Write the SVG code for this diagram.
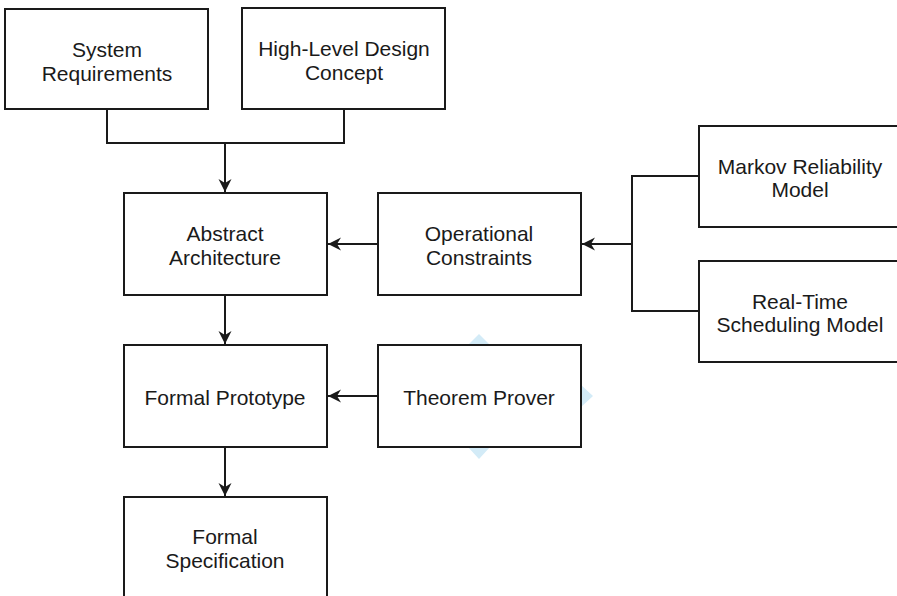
<svg xmlns="http://www.w3.org/2000/svg" width="897" height="596" viewBox="0 0 897 596">
  <defs>
    <style>
      .box { fill: #ffffff; stroke: #1a1a1a; stroke-width: 2; }
      .lbl { font-family: "Liberation Sans", Arial, sans-serif; font-size: 21px; fill: #1a1a1a; text-anchor: middle; }
      .edge { fill: none; stroke: #1a1a1a; stroke-width: 2; }
      .hint { fill: #d3ebf7; }
    </style>
    <marker id="arrow" markerWidth="16" markerHeight="16" refX="13" refY="8" orient="auto" markerUnits="userSpaceOnUse">
      <path d="M0,1.5 L13,8 L0,14.5 L4,8 Z" fill="#1a1a1a"/>
    </marker>
  </defs>

  <rect width="897" height="596" fill="#ffffff"/>

  <!-- hover hints around the theorem prover box -->
  <g id="hover-hints">
    <polygon class="hint" points="479,334 491,346 467,346"/>
    <polygon class="hint" points="593,396 580,384 580,408"/>
    <polygon class="hint" points="479,459 491,446 467,446"/>
  </g>

  <g id="connectors">
    <path class="edge" d="M107,109 V143 H344 V109"/>
    <path class="edge" d="M225,143 V192" marker-end="url(#arrow)"/>
    <path class="edge" d="M378,244 H328" marker-end="url(#arrow)"/>
    <path class="edge" d="M699,176 H632 V311 H699"/>
    <path class="edge" d="M632,244 H582" marker-end="url(#arrow)"/>
    <path class="edge" d="M225,295 V344" marker-end="url(#arrow)"/>
    <path class="edge" d="M378,396 H328" marker-end="url(#arrow)"/>
    <path class="edge" d="M225,447 V496" marker-end="url(#arrow)"/>
  </g>

  <g id="system-requirements">
    <rect class="box" x="5" y="9" width="203" height="100"/>
    <text class="lbl" x="107" y="57">System</text>
    <text class="lbl" x="107" y="81">Requirements</text>
  </g>

  <g id="high-level-design">
    <rect class="box" x="242" y="8" width="203" height="101"/>
    <text class="lbl" x="344" y="56">High-Level Design</text>
    <text class="lbl" x="344" y="80">Concept</text>
  </g>

  <g id="abstract-architecture">
    <rect class="box" x="124" y="193" width="203" height="102"/>
    <text class="lbl" x="225" y="241">Abstract</text>
    <text class="lbl" x="225" y="265">Architecture</text>
  </g>

  <g id="operational-constraints">
    <rect class="box" x="378" y="193" width="203" height="102"/>
    <text class="lbl" x="479" y="241">Operational</text>
    <text class="lbl" x="479" y="265">Constraints</text>
  </g>

  <g id="markov-reliability">
    <rect class="box" x="699" y="126" width="203" height="101"/>
    <text class="lbl" x="800" y="174">Markov Reliability</text>
    <text class="lbl" x="800" y="197">Model</text>
  </g>

  <g id="real-time-scheduling">
    <rect class="box" x="699" y="261" width="203" height="101"/>
    <text class="lbl" x="800" y="309">Real-Time</text>
    <text class="lbl" x="800" y="332">Scheduling Model</text>
  </g>

  <g id="formal-prototype">
    <rect class="box" x="124" y="345" width="203" height="102"/>
    <text class="lbl" x="225" y="405">Formal Prototype</text>
  </g>

  <g id="theorem-prover">
    <rect class="box" x="378" y="345" width="203" height="102"/>
    <text class="lbl" x="479" y="405">Theorem Prover</text>
  </g>

  <g id="formal-specification">
    <rect class="box" x="124" y="497" width="203" height="103"/>
    <text class="lbl" x="225" y="544">Formal</text>
    <text class="lbl" x="225" y="568">Specification</text>
  </g>
</svg>
